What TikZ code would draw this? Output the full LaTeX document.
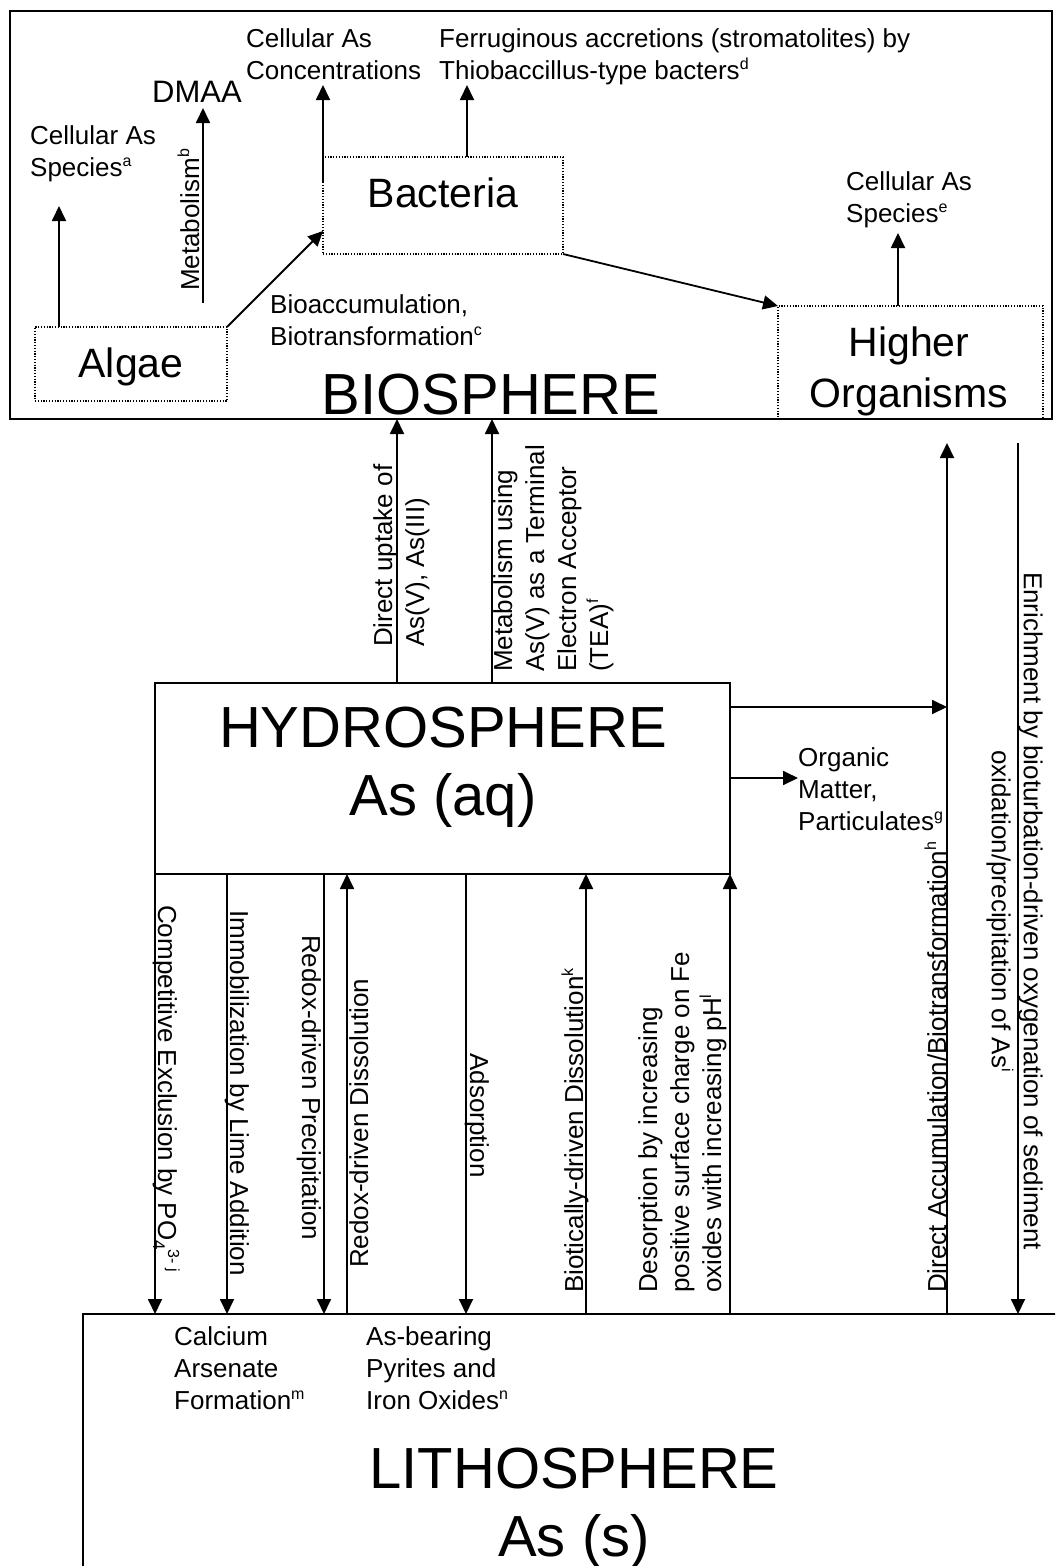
\documentclass[tikz,border=0pt]{standalone}
\usepackage{fontspec}
\setmainfont{Liberation Sans}
\usetikzlibrary{arrows.meta}
\newcommand{\fnmark}[1]{\raisebox{10pt}{\fontsize{16}{16}\selectfont #1}}
\newcommand{\fnsub}[1]{\raisebox{-5pt}{\fontsize{17}{17}\selectfont #1}}
\tikzset{
  zone/.style={draw, line width=2.2pt, inner sep=0pt, outer sep=0pt, anchor=north west},
  dotbox/.style={draw, line width=1.2pt, dash pattern=on 1.2pt off 1.6pt, inner sep=0pt, outer sep=0pt, anchor=north west},
  flow/.style={line width=1.8pt, -{Triangle[length=15pt,width=14pt]}},
  lbl/.style={font=\fontsize{26}{32}\selectfont, align=left, inner sep=0pt},
  organism/.style={font=\fontsize{41}{51}\selectfont, align=center, inner sep=0pt},
  sphere/.style={font=\fontsize{58}{68}\selectfont, align=center, inner sep=0pt}
}
\begin{document}
\begin{tikzpicture}[x=1pt,y=-1pt]
\clip (0,0) rectangle (1055,1566);
\node[zone, line width=2.6pt, minimum width=1042pt, minimum height=408pt] (bio) at (10,11) {};
\node[dotbox, minimum width=192pt, minimum height=74pt] (algae) at (35,327) {};
\node[dotbox, minimum width=240pt, minimum height=97pt] (bact) at (323,157) {};
\node[dotbox, minimum width=265pt, minimum height=113pt] (higher) at (778,306) {};
\node[zone, minimum width=575pt, minimum height=191pt] (hydro) at (155,683) {};
\node[zone, minimum width=1000pt, minimum height=300pt] (litho) at (83,1314) {};

\node[organism, anchor=base] (algaeT) at (131,377) {Algae};
\node[organism, anchor=base] (bactT) at (443,207) {Bacteria};
\node[organism, anchor=north] (higherT) at (909,327) {Higher\\Organisms};
\node[sphere, anchor=base] (bioT) at (491,414) {BIOSPHERE};
\node[sphere, anchor=north] (hydroT) at (443,707) {HYDROSPHERE\\As (aq)};
\node[sphere, anchor=north] (lithoT) at (574,1448) {LITHOSPHERE\\As (s)};

\node[lbl, anchor=north west] (spa) at (30,125) {Cellular As\\Species\fnmark{a}};
\node[lbl, font=\fontsize{31}{36}\selectfont, anchor=north west] (dmaa) at (152,81) {DMAA};
\node[lbl, anchor=north west] (conc) at (246,28) {Cellular As\\Concentrations};
\node[lbl, anchor=north west] (ferr) at (439,28) {Ferruginous accretions (stromatolites) by\\Thiobaccillus-type bacters\fnmark{d}};
\node[lbl, anchor=north west] (bioacc) at (270,294) {Bioaccumulation,\\Biotransformation\fnmark{c}};
\node[lbl, anchor=north west] (spe) at (846,171) {Cellular As\\Species\fnmark{e}};
\node[lbl, anchor=north west] (orgm) at (798,747) {Organic\\Matter,\\Particulates\fnmark{g}};
\node[lbl, anchor=north west] (calc) at (174,1326) {Calcium\\Arsenate\\Formation\fnmark{m}};
\node[lbl, anchor=north west] (pyr) at (366,1326) {As-bearing\\Pyrites and\\Iron Oxides\fnmark{n}};

\node[lbl, rotate=90, anchor=base west] (metab) at (199,291) {Metabolism\fnmark{b}};
\node[lbl, rotate=90, anchor=north west] (uptake) at (373,647) {Direct uptake of\\As(V), As(III)};
\node[lbl, rotate=90, anchor=north west] (tea) at (493,672) {Metabolism using\\As(V) as a Terminal\\Electron Acceptor\\(TEA)\fnmark{f}};
\node[lbl, rotate=90, anchor=base west] (accum) at (946,1293) {Direct Accumulation/Biotransformation\fnmark{h}};
\node[lbl, rotate=-90, anchor=north, align=center] (enrich) at (1043,911) {Enrichment by bioturbation-driven oxygenation of sediment\\oxidation/precipitation of As\fnmark{i}};
\node[lbl, rotate=-90, anchor=base west] (compet) at (158,905) {Competitive Exclusion by PO\fnsub{4}\fnmark{3- j}};
\node[lbl, rotate=-90, anchor=base west] (lime) at (230,910) {Immobilization by Lime Addition};
\node[lbl, rotate=-90, anchor=base west] (precip) at (302,935) {Redox-driven Precipitation};
\node[lbl, rotate=90, anchor=north west] (redox) at (349,1268) {Redox-driven Dissolution};
\node[lbl, rotate=-90, anchor=base west] (adsorp) at (470,1053) {Adsorption};
\node[lbl, rotate=90, anchor=base west] (biotic) at (583,1293) {Biotically-driven Dissolution\fnmark{k}};
\node[lbl, rotate=90, anchor=north west] (desorp) at (638,1293) {Desorption by increasing\\positive surface charge on Fe\\oxides with increasing pH\fnmark{l}};

\coordinate (spaT) at (59,206);
\coordinate (metab0) at (203,303);
\coordinate (metab1) at (203,108);
\coordinate (bactW) at (0,231);
\coordinate (bactU) at (0,182);
\coordinate (concT) at (323,85);
\coordinate (ferrT) at (467,85);
\coordinate (speT) at (898,233);
\coordinate (uptakeX) at (397,0);
\coordinate (teaX) at (492,0);
\coordinate (accT) at (947,443);
\coordinate (enrT) at (1018,443);
\coordinate (hydroA) at (0,707);
\coordinate (hydroB) at (0,778);

\draw[flow] (algae.north -| spaT) -- (spaT);
\draw[flow] (metab0) -- (metab1);
\draw[flow] (algae.north east) -- (bact.west |- bactW);
\draw[flow] (bact.west |- bactU) -- (concT);
\draw[flow] (bact.north -| ferrT) -- (ferrT);
\draw[flow] (bact.south east) -- (higher.north west);
\draw[flow] (higher.north -| speT) -- (speT);

\draw[flow] (hydro.north -| uptakeX) -- (bio.south -| uptakeX);
\draw[flow] (hydro.north -| teaX) -- (bio.south -| teaX);
\draw[flow] (hydro.east |- hydroA) -- (accT |- hydroA);
\draw[flow] (hydro.east |- hydroB) -- (orgm.west |- hydroB);
\draw[flow] (litho.north -| accT) -- (accT);
\draw[flow] (enrT) -- (litho.north -| enrT);

\draw[flow] (hydro.south west) -- (litho.north -| hydro.south west);
\draw[flow] (hydro.south -| 227,0) -- (litho.north -| 227,0);
\draw[flow] (hydro.south -| 324,0) -- (litho.north -| 324,0);
\draw[flow] (litho.north -| 347,0) -- (hydro.south -| 347,0);
\draw[flow] (hydro.south -| 466,0) -- (litho.north -| 466,0);
\draw[flow] (litho.north -| 586,0) -- (hydro.south -| 586,0);
\draw[flow] (litho.north -| hydro.south east) -- (hydro.south east);
\end{tikzpicture}
\end{document}
